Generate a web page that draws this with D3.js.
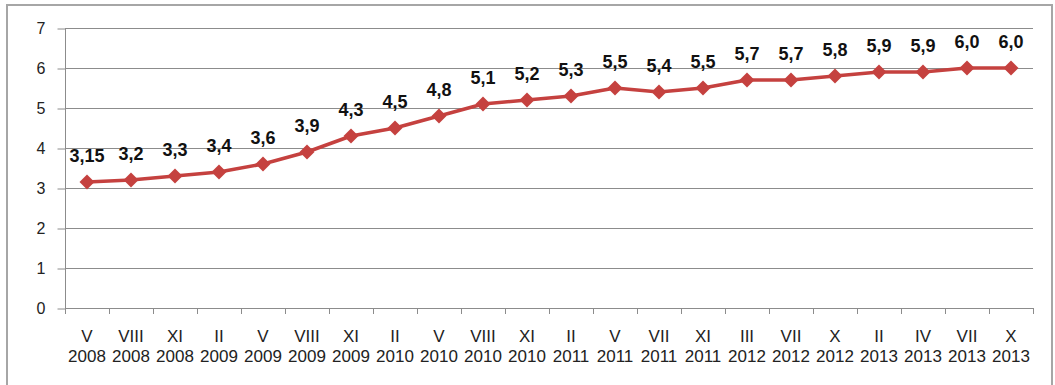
<!DOCTYPE html>
<html>
<head>
<meta charset="utf-8">
<script src="https://cdn.jsdelivr.net/npm/d3@7"></script>
<style>
  html, body { margin: 0; padding: 0; background: #fff; }
  svg { display: block; }
</style>
</head>
<body>
<svg id="chart" width="1055" height="385"></svg>
<script>
// Period labels: month (Roman numeral) and year
const months = ["V","VIII","XI","II","V","VIII","XI","II","V","VIII","XI","II","V","VII","XI","III","VII","X","II","IV","VII","X"];
const years  = ["2008","2008","2008","2009","2009","2009","2009","2010","2010","2010","2010","2011","2011","2011","2011","2012","2012","2012","2013","2013","2013","2013"];
const values = [3.15,3.2,3.3,3.4,3.6,3.9,4.3,4.5,4.8,5.1,5.2,5.3,5.5,5.4,5.5,5.7,5.7,5.8,5.9,5.9,6.0,6.0];
const valueLabels = ["3,15","3,2","3,3","3,4","3,6","3,9","4,3","4,5","4,8","5,1","5,2","5,3","5,5","5,4","5,5","5,7","5,7","5,8","5,9","5,9","6,0","6,0"];
const yTicks = [0,1,2,3,4,5,6,7];

const svg = d3.select("#chart");
const plotLeft = 65, plotRight = 1033, plotTop = 28, plotBottom = 308;
const lineColor = "#c5413f";
const font = "Arial, 'Liberation Sans', sans-serif";

// Outer frame
svg.append("rect").attr("x", 7).attr("y", 5).attr("width", 1045).attr("height", 395)
  .attr("fill", "#fff").attr("stroke", "#a6a6a6").attr("stroke-width", 2);

const idx = values.map((d, i) => i);
const x = d3.scaleBand().domain(idx).range([plotLeft, plotRight]).paddingInner(0).paddingOuter(0);
const y = d3.scaleLinear().domain([0, 7]).range([plotBottom, plotTop]);

// Horizontal gridlines
svg.append("g").selectAll("line").data(yTicks.filter(t => t > 0)).join("line")
  .attr("x1", plotLeft).attr("x2", plotRight)
  .attr("y1", d => y(d) + 0.5).attr("y2", d => y(d) + 0.5)
  .attr("stroke", "#8c8c8c").attr("stroke-width", 1);

// Y axis
const yAxis = svg.append("g").attr("transform", `translate(${plotLeft + 0.5},0.5)`)
  .call(d3.axisLeft(y).tickValues(yTicks).tickSize(8).tickPadding(12).tickFormat(d3.format("d")));
yAxis.select(".domain").attr("stroke", "#8c8c8c").attr("d", `M0,${plotTop}V${plotBottom}`);
yAxis.selectAll(".tick line").attr("stroke", "#8c8c8c");
yAxis.selectAll("text").attr("font-family", font)
  .attr("font-size", 16).attr("fill", "#222");

// X axis (ticks at category boundaries)
const bounds = d3.range(values.length + 1).map(i => plotLeft + i * x.step());
const xg = svg.append("g");
xg.append("line").attr("x1", plotLeft).attr("x2", plotRight).attr("y1", plotBottom + 0.5).attr("y2", plotBottom + 0.5)
  .attr("stroke", "#8c8c8c");
xg.selectAll("line.tk").data(bounds).join("line").attr("class", "tk")
  .attr("x1", d => d + 0.5).attr("x2", d => d + 0.5)
  .attr("y1", plotBottom).attr("y2", plotBottom + 6).attr("stroke", "#8c8c8c");

const xl = svg.append("g").attr("font-family", font)
  .attr("font-size", 17).attr("fill", "#222").attr("text-anchor", "middle");
xl.selectAll("text.m").data(idx).join("text").attr("class", "m")
  .attr("x", i => x(i) + x.bandwidth() / 2).attr("y", 342).text(i => months[i]);
xl.selectAll("text.yr").data(idx).join("text").attr("class", "yr")
  .attr("x", i => x(i) + x.bandwidth() / 2).attr("y", 362).text(i => years[i]);

// Series line
const cx = i => x(i) + x.bandwidth() / 2;
svg.append("path").datum(idx)
  .attr("d", d3.line().x(cx).y(i => y(values[i])))
  .attr("fill", "none").attr("stroke", lineColor).attr("stroke-width", 3.5)
  .attr("stroke-linejoin", "round");

// Diamond markers
svg.append("g").selectAll("path").data(idx).join("path")
  .attr("transform", i => `translate(${cx(i)},${y(values[i])})`)
  .attr("d", "M0,-7.5L7.5,0L0,7.5L-7.5,0Z")
  .attr("fill", lineColor);

// Value labels
svg.append("g").attr("font-family", font)
  .attr("font-size", 18).attr("font-weight", "bold").attr("fill", "#111")
  .attr("text-anchor", "middle")
  .selectAll("text").data(idx).join("text")
  .attr("x", cx).attr("y", i => y(values[i]) - 20)
  .text(i => valueLabels[i]);
</script>
</body>
</html>
